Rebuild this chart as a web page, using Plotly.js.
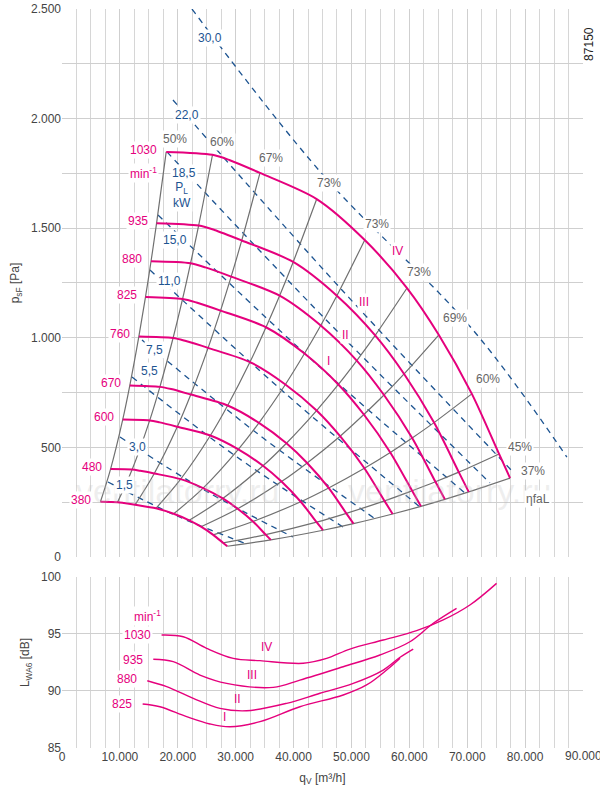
<!DOCTYPE html>
<html><head><meta charset="utf-8">
<script src="https://cdn.plot.ly/plotly-3.0.1.min.js"></script>
<style>body{margin:0;background:#fff}#c{width:600px;height:796px}</style>
</head><body><div id="c"></div>
<script>
// Speeds (min-1)
const speeds = [380,480,600,670,760,825,880,935,1030];
// Characteristic curves q [m3/h], p [Pa]
const q380=[6640,9590,10700,12620,16230,19290,21980,24010,26120,27850,28550];
const p380=[252,250,246,238,222,197,167,138,101,64,49];
const q480=[8390,12120,13510,15940,20500,24370,27770,30340,32990,35180,36070];
const p480=[401,399,393,381,355,314,267,220,162,102,78];
const q600=[10490,15150,16890,19920,25630,30460,34720,37920,41240,43980,45090];
const p600=[627,623,614,594,554,491,416,344,252,159,122];
const q670=[11710,16910,18860,22250,28620,34020,38770,42350,46060,49110,50350];
const p670=[782,776,766,741,691,612,519,429,315,199,152];
const q760=[13280,19190,21400,25240,32470,38590,43980,48040,52240,55710,57110];
const p760=[1006,999,985,954,889,787,668,551,405,256,196];
const q825=[14420,20830,23230,27390,35240,41890,47740,52140,56710,60480,62000];
const p825=[1186,1177,1161,1124,1048,928,787,650,477,302,231];
const q880=[15380,22210,24780,29220,37590,44690,50920,55620,60490,64510,66130];
const p880=[1349,1340,1321,1279,1192,1056,896,739,543,343,263];
const q935=[16340,23600,26330,31050,39940,47480,54100,59100,64270,68540,70260];
const p935=[1523,1512,1492,1444,1346,1192,1011,835,613,387,297];
const q1030=[18000,26000,29000,34200,44000,52300,59600,65100,70800,75500,77400];
const p1030=[1848,1835,1810,1752,1633,1446,1227,1013,744,470,360];
const curvesQ=[q380,q480,q600,q670,q760,q825,q880,q935,q1030];
const curvesP=[p380,p480,p600,p670,p760,p825,p880,p935,p1030];
// Efficiency lines: index of point on each curve
const effIdx=[0,1,3,4,5,6,7,8,9,10];
const effLabels=['50%','60%','67%','73%','73%','73%','69%','60%','45%','37%'];
const effLabelOffset=[[1500,60],[1700,60],[1900,70],[2100,75],[2200,75],[2000,75],[2800,75],[2800,70],[3700,30],[4000,30]];
// Power lines P_L [kW]
const powLabels=['30,0','22,0','18,5','15,0','11,0','7,5','5,5','3,0','1,5'];
const powQ=[[22450,45080,70980,87210],[19170,48360,77890],[18130,45940,73920],[16580,43000,69600],[15200,38510,61830],[13820,33850,53880],[12090,30220,48530],[10020,24870,39890],[7940,19860,31950]];
const powP=[[2500,1743,1036,456],[2085,1218,388],[1848,1073,338],[1560,903,292],[1309,748,228],[990,561,178],[821,456,137],[547,301,91],[342,187,59]];
const powLabelQ=[25560,21590,21070,19520,18650,16060,15200,13120,10710];
const powLabelP=[2368,2016,1752,1446,1259,944,849,502,328];
// Roman labels
const romanTop=[['IV',57900,1396],['III',52200,1163],['II',49000,1013],['I',46100,894]];
// Sound power level curves
const snd1030Q=[17200,20950,24990,29590,34200,41680,45710,49740,55490,61260,65850,70460,75070];
const snd1030L=[94.91,94.76,93.74,92.86,92.66,92.43,92.86,93.68,94.47,95.29,96.23,97.54,99.44];
const snd935Q=[15770,19220,23830,28440,36490,41100,48580,54920,60100,64130,68160];
const snd935L=[92.78,92.57,91.4,90.67,90.32,90.96,92.13,93.16,94.32,95.94,97.25];
const snd880Q=[14730,18080,22680,27290,31890,38800,44560,50310,55490,58400,60670];
const snd880L=[90.9,90.38,89.36,88.48,88.27,88.92,89.8,90.67,91.84,92.96,93.68];
const snd825Q=[13930,16920,21530,25560,29010,34200,41100,48580,52620,56080,58400];
const snd825L=[88.86,88.62,87.75,87.11,86.86,87.31,88.62,89.65,90.53,91.84,92.87];
const sndLabels=[['1030',94.9],['935',92.7],['880',91.05],['825',88.9]];
const romanBot=[['IV',35400,93.9],['III',32800,91.4],['II',30400,89.3],['I',28000,87.7]];

const PINK='#e5007d', GRAY='#707070', BLUE='#1d5491', LBL='#666';
const F='Liberation Sans, Arial, sans-serif';
const traces=[];
powQ.forEach((q,i)=>traces.push({x:q,y:powP[i],mode:'lines',line:{color:BLUE,width:1.3,dash:'6px,5px',shape:'spline'},xaxis:'x',yaxis:'y',hoverinfo:'skip'}));
effIdx.forEach(k=>traces.push({x:curvesQ.map(c=>c[k]),y:curvesP.map(c=>c[k]),mode:'lines',line:{color:GRAY,width:1.2,shape:'spline'},xaxis:'x',yaxis:'y',hoverinfo:'skip'}));
curvesQ.forEach((q,i)=>traces.push({x:q,y:curvesP[i],mode:'lines',line:{color:PINK,width:2,shape:'spline',smoothing:0.8},xaxis:'x',yaxis:'y',hoverinfo:'skip'}));
[[snd1030Q,snd1030L],[snd935Q,snd935L],[snd880Q,snd880L],[snd825Q,snd825L]].forEach(s=>traces.push({x:s[0],y:s[1],mode:'lines',line:{color:PINK,width:1.4,shape:'spline'},xaxis:'x2',yaxis:'y2',hoverinfo:'skip'}));

const ann=[];
const A=(o)=>ann.push(Object.assign({showarrow:false,font:{family:F,size:12}},o));
A({x:20000,y:300,text:'ventilatorry.ru',font:{family:F,size:34,color:'rgba(190,190,190,0.25)'},xref:'x',yref:'y'});
A({x:67000,y:300,text:'ventilatorry.ru',font:{family:F,size:34,color:'rgba(190,190,190,0.25)'},xref:'x',yref:'y'});
speeds.forEach((s,i)=>A({x:curvesQ[i][0]-1200,y:curvesP[i][0]+10,text:String(s),xanchor:'right',font:{family:F,size:12,color:PINK},bgcolor:'#fff',xref:'x',yref:'y'}));
A({x:curvesQ[8][0]-1200,y:1752,text:'min<sup>-1</sup>',xanchor:'right',font:{family:F,size:12,color:PINK},bgcolor:'#fff',xref:'x',yref:'y'});
effIdx.forEach((k,i)=>A({x:q1030[k]+effLabelOffset[i][0],y:p1030[k]+effLabelOffset[i][1],text:effLabels[i],font:{family:F,size:12,color:LBL},bgcolor:'#fff',xref:'x',yref:'y'}));
A({x:82200,y:265,text:'ηfaL',font:{family:F,size:12,color:LBL},bgcolor:'#fff',xref:'x',yref:'y'});
powLabels.forEach((t,i)=>A({x:powLabelQ[i],y:powLabelP[i],text:t,font:{family:F,size:12,color:BLUE},bgcolor:'#fff',xref:'x',yref:'y'}));
A({x:20720,y:1650,text:'P<sub>L</sub><br>kW',font:{family:F,size:12,color:BLUE},bgcolor:'#fff',xref:'x',yref:'y'});
romanTop.forEach(r=>A({x:r[1],y:r[2],text:r[0],font:{family:F,size:12,color:PINK},bgcolor:'#fff',xref:'x',yref:'y'}));
sndLabels.forEach((l,i)=>A({x:[snd1030Q,snd935Q,snd880Q,snd825Q][i][0]-1500,y:l[1],text:l[0],xanchor:'right',font:{family:F,size:12,color:PINK},bgcolor:'#fff',xref:'x2',yref:'y2'}));
A({x:14850,y:96.6,text:'min<sup>-1</sup>',font:{family:F,size:12,color:PINK},bgcolor:'#fff',xref:'x2',yref:'y2'});
romanBot.forEach(r=>A({x:r[1],y:r[2],text:r[0],font:{family:F,size:12,color:PINK},xref:'x2',yref:'y2'}));
A({x:90000,y:0,xref:'x2',yref:'paper',yanchor:'top',yshift:1,text:'90.000',font:{family:F,size:12,color:'#444'}});
A({x:1.03,y:0.978,xref:'paper',yref:'paper',text:'87150',textangle:-90,font:{family:F,size:12,color:'#222'}});

const gx={range:[0,90000],showline:false,zeroline:false,gridcolor:'#cfcfcf',dtick:10000,tick0:0,minor:{dtick:2500,showgrid:true,gridcolor:'#d6d6d6'},ticks:'',tickfont:{family:F,size:12,color:'#444'},tickformat:','};
const layout={width:600,height:796,margin:{l:62,r:17,t:9,b:48},showlegend:false,separators:',.',
 plot_bgcolor:'#fff',paper_bgcolor:'#fff',
 xaxis:Object.assign({},gx,{anchor:'y',showticklabels:false}),
 yaxis:{domain:[0.2585,1],range:[0,2500],dtick:500,tickformat:',',minor:{dtick:250,showgrid:true,gridcolor:'#cfcfcf'},gridcolor:'#cfcfcf',zeroline:false,ticks:'',tickfont:{family:F,size:12,color:'#444'},title:{text:'p<sub>sF</sub> [Pa]',font:{family:F,size:12,color:'#444'},standoff:8}},
 xaxis2:Object.assign({},gx,{anchor:'y2',tickvals:[0,10000,20000,30000,40000,50000,60000,70000,80000],title:{text:'q<sub>V</sub> [m³/h]',font:{family:F,size:12,color:'#444'},standoff:10}}),
 yaxis2:{domain:[0,0.2314],range:[85,100],dtick:5,gridcolor:'#cfcfcf',zeroline:false,ticks:'',tickfont:{family:F,size:12,color:'#444'},title:{text:'L<sub>WA6</sub> [dB]',font:{family:F,size:12,color:'#444'},standoff:8}},
 annotations:ann};
Plotly.newPlot('c',traces,layout,{staticPlot:true});
</script></body></html>
